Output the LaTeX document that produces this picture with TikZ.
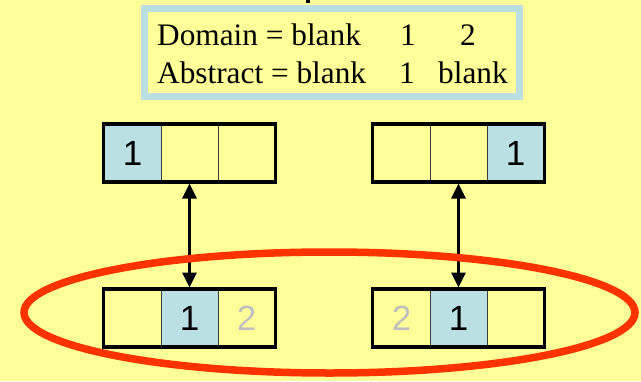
\documentclass[tikz,border=0pt]{standalone}
\usepackage{fontspec}
\setmainfont{Liberation Serif}
\newfontfamily\digitfont{Liberation Sans}
\usetikzlibrary{arrows.meta}

\definecolor{bgyellow}{RGB}{255,255,153}
\definecolor{cellblue}{RGB}{187,224,227}
\definecolor{ringred}{RGB}{255,51,0}
\definecolor{ghost}{RGB}{192,192,192}
\definecolor{divider}{RGB}{60,60,60}

\tikzset{
  cell/.style={draw=divider, line width=1pt, minimum width=57pt, minimum height=57pt,
               inner sep=0pt, font=\digitfont\fontsize{35}{40}\selectfont},
  filled/.style={cell, fill=cellblue},
  frame/.style={draw=black, line width=3.5pt},
  link/.style={line width=3pt, {Triangle[length=15pt,width=14pt]}-{Triangle[length=15pt,width=14pt]}},
  legend/.style={inner sep=0pt, font=\fontsize{31.3}{36}\selectfont},
  ring/.style={draw=ringred, line width=7.5pt}
}

\begin{document}
\begin{tikzpicture}[x=1pt, y=-1pt]
  % page and background
  \fill[bgyellow] (0,0) rectangle (641,381);
  \useasboundingbox (0,0) rectangle (641,381);

  % bit of the heading descender above the legend box
  \fill[black] (306,0) rectangle (309.5,3);

  % legend box
  \node[draw=cellblue, line width=7pt, minimum width=375pt, minimum height=88pt] (legend) at (332,52.5) {};
  \node[legend, anchor=base west] (dlabel) at (157,45) {Domain = blank};
  \node[legend, anchor=base] (done) at (408,45) {1};
  \node[legend, anchor=base] (dtwo) at (468,45) {2};
  \node[legend, anchor=base west] (alabel) at (157,83) {Abstract = blank};
  \node[legend, anchor=base] (aone) at (407,83) {1};
  \node[legend, anchor=base west] (ablank) at (438,83) {blank};

  % upper left array
  \node[filled] (ta1) at (132.5,153) {1};
  \node[cell]   (ta2) at (189.5,153) {};
  \node[cell]   (ta3) at (246.5,153) {};
  \draw[frame] (ta1.north west) rectangle (ta3.south east);

  % upper right array
  \node[cell]   (tb1) at (401.5,153) {};
  \node[cell]   (tb2) at (458.5,153) {};
  \node[filled] (tb3) at (515.5,153) {1};
  \draw[frame] (tb1.north west) rectangle (tb3.south east);

  % lower left array
  \node[cell]   (ba1) at (132.5,318) {};
  \node[filled] (ba2) at (189.5,318) {1};
  \node[cell, text=ghost] (ba3) at (246.5,318) {2};
  \draw[frame] (ba1.north west) rectangle (ba3.south east);

  % lower right array
  \node[cell, text=ghost] (bb1) at (401.5,318) {2};
  \node[filled] (bb2) at (458.5,318) {1};
  \node[cell]   (bb3) at (515.5,318) {};
  \draw[frame] (bb1.north west) rectangle (bb3.south east);

  % links between the rows
  \draw[link] ([yshift=-1.5pt]ta2.south) -- ([yshift=1.5pt]ba2.north);
  \draw[link] ([yshift=-1.5pt]tb2.south) -- ([yshift=1.5pt]bb2.north);

  % ring round the lower row
  \draw[ring] (329.5,312.5) ellipse [x radius=305.5pt, y radius=60.5pt];
\end{tikzpicture}
\end{document}
